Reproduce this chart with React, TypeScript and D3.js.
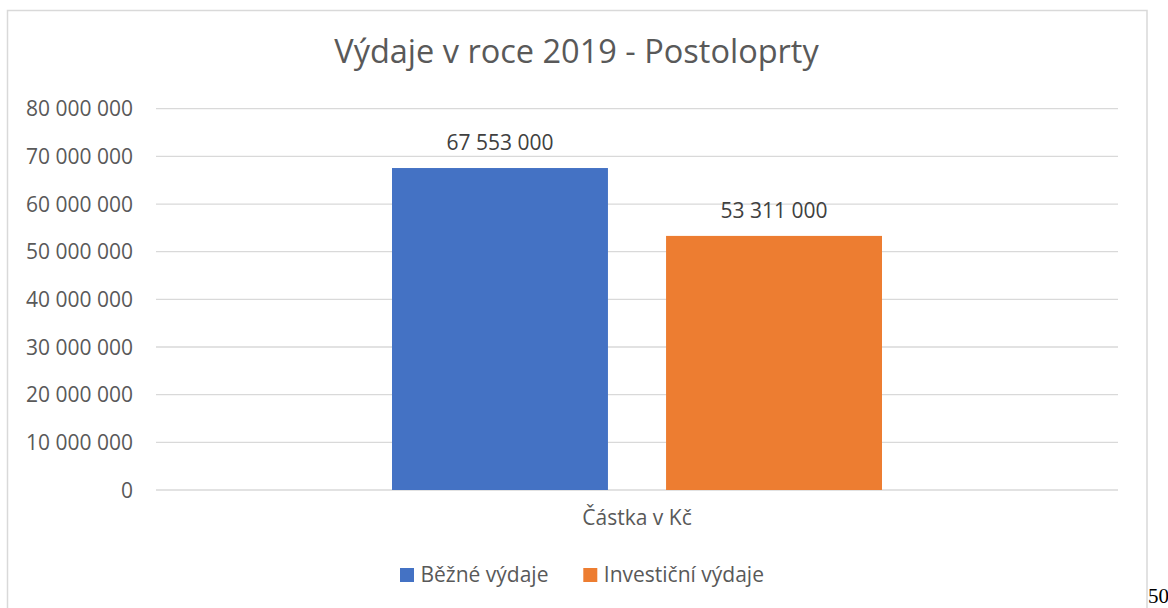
import React from "react";
import * as d3 from "d3";

const title = "Výdaje v roce 2019 - Postoloprty";
const categories = ["Částka v Kč"];
const seriesNames = ["Běžné výdaje", "Investiční výdaje"];
const seriesValues = [67553000, 53311000];
const seriesColors = ["#4472C4", "#ED7D31"];
const yTicks = [0, 10000000, 20000000, 30000000, 40000000, 50000000, 60000000, 70000000, 80000000];
const pageNumber = "50";

const W = 1168;
const H = 608;
const FONT = "'Open Sans', 'Noto Sans', sans-serif";
const TEXT = "#595959";

const fmt = (v: number) => d3.format(",")(v).replace(/,/g, " ");

export default function App() {
  const plotLeft = 156;
  const plotRight = 1118;
  const yScale = d3.scaleLinear().domain([0, 80000000]).range([490, 108.7]);
  const xCat = d3.scaleBand().domain(categories).range([plotLeft, plotRight]);
  const groupWidth = 490;
  const xSeries = d3
    .scaleBand()
    .domain(seriesNames)
    .range([0, groupWidth])
    .paddingInner(0.212);

  const catCenter = (xCat(categories[0]) as number) + xCat.bandwidth() / 2;
  const groupStart = catCenter - groupWidth / 2;

  return (
    <div style={{ position: "fixed", left: 0, top: 0, width: W, height: H, background: "#fff" }}>
      <svg width={W} height={H} style={{ display: "block" }}>
        <rect x={7.5} y={10.5} width={1139.5} height={700} fill="#fff" stroke="#D9D9D9" strokeWidth={1.5} />
        <text x={576.5} y={63} textAnchor="middle" fontFamily={FONT} fontSize={32.5} fill={TEXT}>
          {title}
        </text>
        {yTicks.map((t) => (
          <g key={t}>
            <line x1={plotLeft} x2={plotRight} y1={yScale(t)} y2={yScale(t)} stroke="#D9D9D9" strokeWidth={1.3} />
            <text x={133} y={yScale(t) + 7.5} textAnchor="end" fontFamily={FONT} fontSize={21} fill={TEXT}>
              {fmt(t)}
            </text>
          </g>
        ))}
        {seriesNames.map((s, i) => {
          const x = groupStart + (xSeries(s) as number);
          const y = yScale(seriesValues[i]);
          return (
            <g key={s}>
              <rect x={x} y={y} width={xSeries.bandwidth()} height={yScale(0) - y} fill={seriesColors[i]} />
              <text
                x={x + xSeries.bandwidth() / 2}
                y={y - 18}
                textAnchor="middle"
                fontFamily={FONT}
                fontSize={21}
                fill="#404040"
              >
                {fmt(seriesValues[i])}
              </text>
            </g>
          );
        })}
        <text x={catCenter} y={525} textAnchor="middle" fontFamily={FONT} fontSize={21} fill={TEXT}>
          {categories[0]}
        </text>
        {seriesNames.map((s, i) => {
          const lx = i === 0 ? 400 : 583.3;
          return (
            <g key={s}>
              <rect x={lx} y={568} width={14} height={14} fill={seriesColors[i]} />
              <text x={lx + 20.5} y={582} fontFamily={FONT} fontSize={21} fill={TEXT}>
                {s}
              </text>
            </g>
          );
        })}
        <text x={1148} y={603} fontFamily="'Liberation Serif', 'DejaVu Serif', serif" fontSize={21} fill="#000">
          {pageNumber}
        </text>
      </svg>
    </div>
  );
}
